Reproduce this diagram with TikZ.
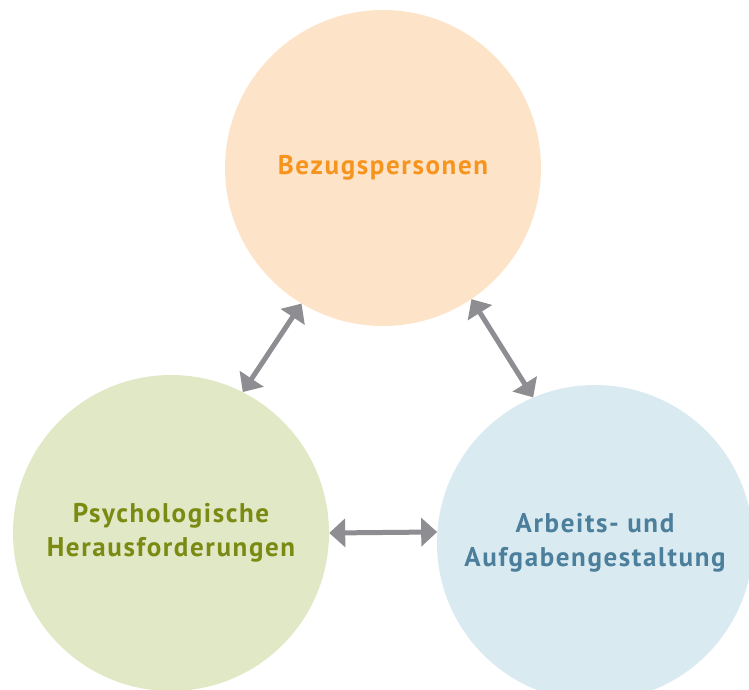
\documentclass[tikz,border=0pt]{standalone}
\usepackage{fontspec}
\setmainfont{PT Sans}[LetterSpace=6]
\usetikzlibrary{arrows.meta}
\definecolor{orfill}{HTML}{FDE3C8}
\definecolor{ortext}{HTML}{F7941D}
\definecolor{grfill}{HTML}{E1E8C5}
\definecolor{grtext}{HTML}{7A8A12}
\definecolor{blfill}{HTML}{DAEAF1}
\definecolor{bltext}{HTML}{4B7F9B}
\definecolor{arrgray}{HTML}{8E8E92}
\tikzset{
  bubble/.style={circle, minimum size=316pt, inner sep=0pt, align=center,
    font=\fontsize{27}{34}\selectfont\bfseries},
  link/.style={arrgray, line width=5pt,
    {Triangle[length=16pt,width=28pt]}-{Triangle[length=16pt,width=28pt]}}
}
\begin{document}
\begin{tikzpicture}[x=1pt,y=-1pt]
\useasboundingbox (0,0) rectangle (749,689);
\begin{scope}
\clip (0,0) rectangle (749,689);
\node[bubble, fill=orfill, text=ortext] (top) at (383,168) {Bezugspersonen};
\node[bubble, fill=grfill, text=grtext] (left) at (171,533) {Psychologische\\Herausforderungen};
\node[bubble, fill=blfill, text=bltext] (right) at (595,543) {Arbeits- und\\Aufgabengestaltung};
\end{scope}
\draw[link] (top.239) -- (left.63);
\draw[link] (top.304) -- (right.113);
\draw[link] (left.0) -- (right.176);
\end{tikzpicture}
\end{document}
